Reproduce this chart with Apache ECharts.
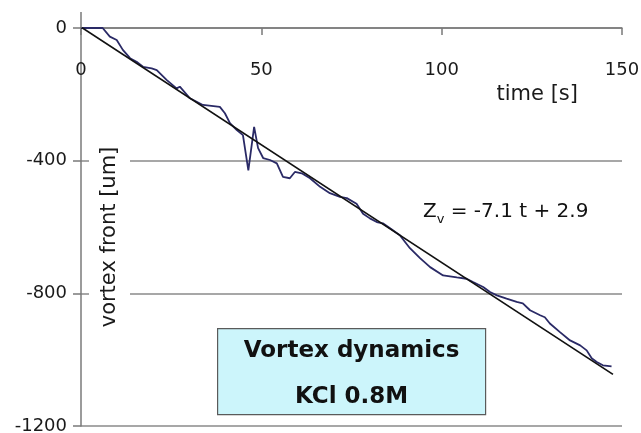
<!DOCTYPE html>
<html>
<head>
<meta charset="utf-8">
<script src="https://cdn.jsdelivr.net/npm/echarts@6/dist/echarts.min.js"></script>
<style>html,body{margin:0;padding:0;background:#fff}#c{width:641px;height:433px}</style>
</head>
<body>
<div id="c"></div>
<script>
// time [s]
var timeS = [0, 6.0, 8.0, 9.9, 11.6, 13.6, 15.4, 17.2, 19.6, 21.0, 23.8, 26.5, 27.4, 30.2, 33.8, 38.5, 39.9, 41.3, 43.2, 44.9, 46.4, 48.0, 49.1, 50.5, 52.4, 54.3, 56.0, 57.9, 59.3, 61.2, 63.5, 66.3, 69.0, 71.8, 73.7, 76.4, 78.2, 80.1, 82.0, 83.7, 85.7, 88.4, 91.2, 94.0, 96.8, 100.4, 104.2, 106.9, 108.7, 111.5, 113.4, 115.3, 118.0, 120.8, 122.5, 124.5, 127.3, 128.6, 130.0, 132.8, 135.6, 138.4, 140.2, 141.6, 143.0, 144.7, 147.1];
// vortex front [um]
var frontUm = [0, 0, -26, -36, -66, -91, -102, -117, -122, -127, -157, -182, -177, -212, -232, -238, -257, -287, -308, -323, -429, -298, -362, -392, -398, -408, -449, -453, -434, -438, -453, -479, -498, -509, -513, -530, -560, -574, -585, -589, -604, -625, -664, -694, -721, -746, -752, -756, -766, -781, -796, -806, -816, -826, -830, -851, -866, -872, -891, -917, -942, -957, -972, -996, -1007, -1017, -1020];
// linear fit endpoints (Zv = -7.1 t + 2.9)
var fitT = [0, 147.5];
var fitZ = [2.9, -1044.4];
var xTicks = [0, 50, 100, 150];
var yTicks = [-1200, -800, -400, 0];
var eqText = '-7.1 t + 2.9';
var boxLines = ['Vortex dynamics', 'KCl 0.8M'];

var dataPts = timeS.map(function (t, i) { return [t, frontUm[i]]; });
var fitPts = fitT.map(function (t, i) { return [t, fitZ[i]]; });
var F = 'DejaVu Sans';
var AX = '#7a7a7a';

var chart = echarts.init(document.getElementById('c'));
chart.setOption({
  animation: false,
  backgroundColor: '#fff',
  grid: { left: 81, right: 19, top: 28, bottom: 7, containLabel: false, outerBoundsMode: 'none' },
  xAxis: {
    type: 'value', min: 0, max: 150, interval: 50, position: 'top',
    axisLine: { onZero: false, lineStyle: { color: AX, width: 1.5 } },
    axisTick: { show: true, inside: true, length: 7, lineStyle: { color: AX, width: 1.5 } },
    axisLabel: { inside: true, margin: 33, color: '#1a1a1a', fontFamily: F, fontSize: 18 },
    splitLine: { show: false },
    name: 'time [s]', nameLocation: 'end', nameGap: -44, nameMoveOverlap: false,
    nameTextStyle: { fontFamily: F, fontSize: 21, color: '#1a1a1a', align: 'right', verticalAlign: 'top', padding: [56, 0, 0, 0] }
  },
  yAxis: {
    type: 'value', min: -1200, max: 0, interval: 400,
    axisLine: { show: true, onZero: false, lineStyle: { color: AX, width: 1.5 } },
    axisTick: { show: true, inside: false, length: 8, lineStyle: { color: AX, width: 1.5 } },
    axisLabel: { margin: 14, color: '#1a1a1a', fontFamily: F, fontSize: 18,
      formatter: function (v) { return String(v); } },
    splitLine: { show: true, lineStyle: { color: '#8a8a8a', width: 1.5 } },
    name: 'vortex front [um]', nameLocation: 'middle', nameRotate: 90, nameGap: -49, nameMoveOverlap: false,
    nameTextStyle: { fontFamily: F, fontSize: 21, color: '#1a1a1a', backgroundColor: '#fff', padding: [10, 20, 10, 0] }
  },
  series: [
    { type: 'line', data: dataPts, showSymbol: false, symbol: 'none', smooth: false,
      lineStyle: { color: '#2a2a66', width: 1.8 }, z: 3 },
    { type: 'line', data: fitPts, showSymbol: false, symbol: 'none',
      lineStyle: { color: '#111', width: 1.7 }, z: 4 }
  ],
  graphic: [
    { id: 'eq', type: 'text', left: 423, top: 202, z: 10,
      style: { text: '{z|Z}{s|v}{z| = ' + eqText + '}', fill: '#111',
        rich: { z: { fontFamily: F, fontSize: 20, fill: '#111', verticalAlign: 'bottom' },
                s: { fontFamily: F, fontSize: 13, fill: '#111', verticalAlign: 'bottom', padding: [0, 0, -4, 0] } } } },
    { id: 'box', type: 'group', left: 217, top: 328, z: 10, children: [
      { type: 'rect', shape: { x: 0, y: 0, width: 268, height: 86 },
        style: { fill: '#ccf5fb', stroke: '#5a5a5a', lineWidth: 1.2 } },
      { type: 'text', x: 134, y: 22, style: { text: boxLines[0], fontFamily: F, fontWeight: 'bold', fontSize: 23, fill: '#111', align: 'center', verticalAlign: 'middle' } },
      { type: 'text', x: 134, y: 68, style: { text: boxLines[1], fontFamily: F, fontWeight: 'bold', fontSize: 23, fill: '#111', align: 'center', verticalAlign: 'middle' } }
    ] }
  ]
});
// y-axis line continues a little above the zero line
var o = chart.convertToPixel({ gridIndex: 0 }, [0, 0]);
chart.setOption({ graphic: [{ id: 'yext', type: 'line', z: 5, shape: { x1: o[0], y1: o[1], x2: o[0], y2: o[1] - 16 }, style: { stroke: AX, lineWidth: 1.5 } }] });
</script>
</body>
</html>
